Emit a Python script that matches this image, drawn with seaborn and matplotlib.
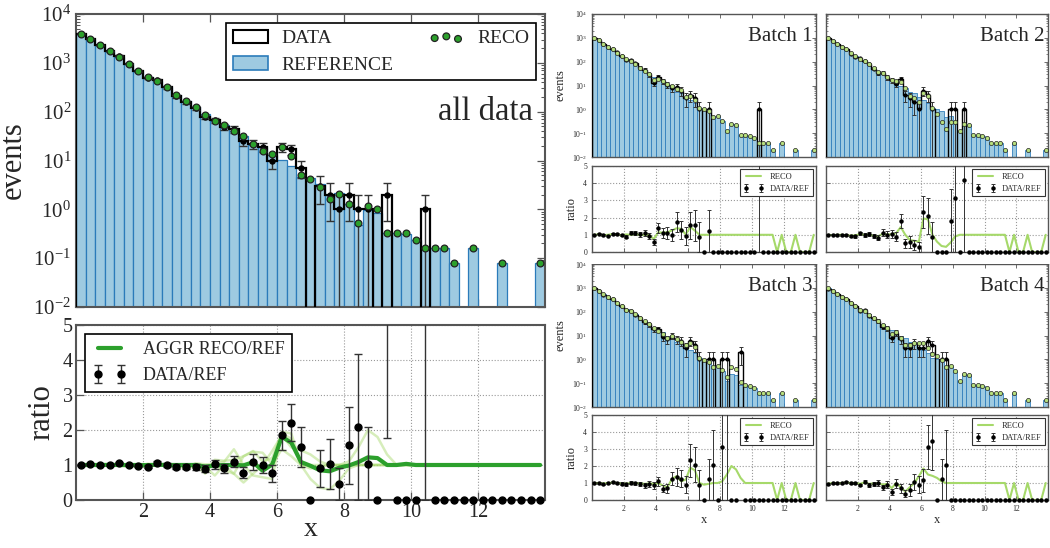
import numpy as np
import pandas as pd
import matplotlib
matplotlib.use("Agg")
import matplotlib.pyplot as plt
import seaborn as sns
from matplotlib.patches import Patch, Rectangle
from matplotlib.lines import Line2D

# ---------------------------------------------------------------- data
X_EDGES = np.linspace(0.0, 14.0, 50)          # 49 bins of width 14/49
N_BATCHES = 4
X_TICKS = [2, 4, 6, 8, 10, 12]
RATIO_TICKS = [0, 1, 2, 3, 4, 5]
LOG_TICKS = [1e-2, 1e-1, 1e0, 1e1, 1e2, 1e3, 1e4]
BATCH_NAMES = ["Batch 1", "Batch 2", "Batch 3", "Batch 4"]

# aggregated reference (blue bars), reco (green dots), data (black step)
REF_ALL = [3950, 3020, 2270, 1710, 1330, 960, 690, 505, 420, 313, 218, 164, 124, 88, 65, 54,
           40, 32, 20.5, 19, 13.2, 10.3, 7.7, 4.6, 4.3, 3.3, 1.95, 2.2, 1.28, 0.48, 0.96, 0.86,
           0.33, 0.32, 0.31, 0.24, 0.16, 0.16, 0.16, 0.08, 0, 0.16, 0, 0, 0.08, 0, 0, 0, 0.08]
RECO_ALL = [3950, 3020, 2270, 1715, 1330, 960, 690, 503, 423, 313, 218, 164, 124, 84, 64, 54,
            40, 31.7, 22.1, 15.9, 13.4, 18.6, 12.6, 5.0, 4.2, 2.8, 1.6, 2.03, 1.26, 0.52, 1.17, 1.03,
            0.33, 0.32, 0.32, 0.24, 0.16, 0.16, 0.16, 0.08, np.nan, 0.16, np.nan, np.nan, 0.08,
            np.nan, np.nan, np.nan, 0.08]
DATA_ALL = [3950, 3110, 2270, 1710, 1410, 960, 676, 480, 445, 313, 207, 156, 118, 78, 66, 49,
            44, 25, 22, 19, 10, 19, 17, 7, 0, 3, 2, 1, 2, 1, 1, 0,
            2, 0, 0, 0, 1, 0, 0, 0, 0, 0, 0, 0, 0, 0, 0, 0, 0]

# per-batch data counts
B1_DATA = [988, 808, 556, 406, 349, 247, 169, 113, 118, 86, 56, 45, 29, 13, 23, 15,
           11, 8, 9, 6, 3, 4, 3, 1, 0, 1, 0, 0, 0, 0, 0, 0,
           0, 0, 0, 0, 1, 0, 0, 0, 0, 0, 0, 0, 0, 0, 0, 0, 0]
B2_DATA = [988, 755, 568, 428, 333, 218, 157, 136, 103, 82, 50, 34, 35, 22, 17, 12,
           18, 4, 3, 2, 1, 6, 4, 1, 0, 0, 0, 1, 1, 0, 1, 0,
           0, 0, 0, 0, 0, 0, 0, 0, 0, 0, 0, 0, 0, 0, 0, 0, 0]
B3_DATA = [988, 755, 522, 428, 346, 240, 166, 116, 107, 76, 52, 36, 29, 19, 18, 9,
           7, 10, 7, 6, 3, 6, 4, 1, 0, 1, 1, 0, 1, 1, 0, 0,
           2, 0, 0, 0, 0, 0, 0, 0, 0, 0, 0, 0, 0, 0, 0, 0, 0]
B4_DATA = [929, 740, 568, 428, 353, 240, 172, 111, 113, 69, 52, 41, 23, 20, 8, 13,
           7, 3, 3, 5, 3, 3, 6, 4, 0, 1, 1, 0, 0, 0, 0, 0,
           0, 0, 0, 0, 0, 0, 0, 0, 0, 0, 0, 0, 0, 0, 0, 0, 0]

# per-batch RECO / REF ratio (light green curves)
B1_RECO_RATIO = [1.0, 1.03, 0.98, 1.0, 1.04, 1.0, 0.98, 1.02, 1.0, 1.03, 1.0, 1.0, 1.0, 0.75, 1.15, 1.12,
                 1.15, 1.25, 1.38, 1.35, 1.02, 1.45, 1.25, 1.0, 1.0, 1.0, 1.0, 1.0, 1.0, 1.0, 1.0, 1.0,
                 1.0, 1.0, 1.0, 1.0, 1.0, 1.0, 1.0, 1.0, 1.0, 1.0, 1.0, 1.0, 1.0, 1.0, 1.0, 1.0, 1.0]
B2_RECO_RATIO = [1.0, 0.98, 1.0, 1.0, 0.98, 0.95, 0.97, 1.04, 1.0, 1.02, 0.95, 0.92, 1.05, 1.02, 1.03, 1.1,
                 1.45, 1.0, 0.7, 0.65, 0.6, 1.95, 1.9, 1.0, 0.6, 0.35, 0.3, 0.55, 0.9, 1.0, 1.0, 1.0,
                 1.0, 1.0, 1.0, 1.0, 1.0, 1.0, 1.0, 1.0, 1.0, 1.0, 1.0, 1.0, 1.0, 1.0, 1.0, 1.0, 1.0]
B3_RECO_RATIO = [1.0, 1.0, 0.97, 1.0, 1.02, 1.0, 0.98, 0.96, 1.0, 0.99, 0.98, 0.95, 0.97, 0.96, 0.98, 0.85,
                 0.75, 1.25, 1.4, 1.1, 1.2, 1.9, 1.75, 1.0, 0.9, 0.95, 1.0, 1.0, 1.1, 1.5, 2.0, 1.8,
                 1.3, 1.0, 1.0, 1.0, 1.0, 1.0, 1.0, 1.0, 1.0, 1.0, 1.0, 1.0, 1.0, 1.0, 1.0, 1.0, 1.0]
B4_RECO_RATIO = [0.97, 0.99, 1.0, 1.0, 1.03, 1.0, 1.0, 0.95, 1.04, 0.95, 0.98, 1.0, 0.9, 0.95, 0.7, 1.0,
                 0.75, 0.5, 0.75, 1.0, 1.4, 1.85, 1.5, 1.42, 1.3, 1.1, 1.0, 1.0, 1.0, 1.0, 1.0, 1.0,
                 1.0, 1.0, 1.0, 1.0, 1.0, 1.0, 1.0, 1.0, 1.0, 1.0, 1.0, 1.0, 1.0, 1.0, 1.0, 1.0, 1.0]

BATCH_DATA = [B1_DATA, B2_DATA, B3_DATA, B4_DATA]
BATCH_RECO_RATIO = [B1_RECO_RATIO, B2_RECO_RATIO, B3_RECO_RATIO, B4_RECO_RATIO]

# ---------------------------------------------------------------- style
REF_FILL = "#9ecae1"
REF_EDGE = "#2b7bba"
GREEN = "#2ca02c"
LIGHT_GREEN = "#a6d96a"
BATCH_DOT = "#b8e07e"
SPINE = "#555555"

sns.set_style("ticks")
plt.rcParams["font.family"] = ["Liberation Serif", "DejaVu Serif"]
plt.rcParams["mathtext.fontset"] = "stix"

W, H = 1050, 548
fig = plt.figure(figsize=(W / 100, H / 100), dpi=100)


def add_ax(left, top, right, bottom):
    return fig.add_axes([left / W, 1 - bottom / H, (right - left) / W, (bottom - top) / H])


centers = 0.5 * (X_EDGES[:-1] + X_EDGES[1:])
BIN_LIST = [float(e) for e in X_EDGES]


def style(ax, lw, major, minor, labelsize, pad=3.5):
    for s in ax.spines.values():
        s.set_color(SPINE)
        s.set_linewidth(lw)
    ax.tick_params(which="both", direction="in", top=True, right=True, color=SPINE,
                   labelsize=labelsize, pad=pad)
    ax.tick_params(which="major", length=major, width=max(lw * 0.6, 0.6))
    ax.tick_params(which="minor", length=minor, width=max(lw * 0.5, 0.5))


def draw_hist(ax, ref, reco, data, dot_color, dot_size, dot_lw, data_ms, step_lw, elw, cap):
    ax.set_yscale("log")
    df = pd.DataFrame({"x": centers, "w": ref})
    sns.histplot(data=df, x="x", weights="w", bins=BIN_LIST, ax=ax, color=REF_FILL,
                 edgecolor=REF_EDGE, linewidth=0.9 * step_lw / 1.6, alpha=1.0, legend=False)
    ax.stairs(data, X_EDGES, baseline=1e-6, color="black", lw=step_lw, zorder=3)
    m = data > 0
    eb = ax.errorbar(centers[m], data[m], yerr=np.sqrt(data[m]), fmt="o", color="black",
                     ms=data_ms, ecolor="0.2", elinewidth=elw, capsize=cap, capthick=elw, zorder=4)
    for c in eb[1]:
        c.set_color("0.5")
    sns.scatterplot(x=centers, y=reco, ax=ax, s=dot_size, color=dot_color, edgecolor="#222222",
                    linewidth=dot_lw, zorder=5, legend=False)
    ax.set_xlim(0, 14)
    ax.set_ylim(1e-2, 1e4)
    ax.set_yticks(LOG_TICKS)
    ax.set_xticks(X_TICKS)
    ax.tick_params(labelbottom=False)
    ax.set_xlabel("")
    ax.set_ylabel("")


def draw_ratio_points(ax, ref, data, ms, elw, cap):
    pos = ref > 0
    ratio = np.where(pos, data / np.where(pos, ref, 1), 0.0)
    err = np.where(pos, np.sqrt(data) / np.where(pos, ref, 1), 0.0)
    m = err > 0
    eb = ax.errorbar(centers[m], ratio[m], yerr=err[m], fmt="o", color="black", ms=ms,
                     ecolor="0.2", elinewidth=elw, capsize=cap, capthick=elw, zorder=4)
    for c in eb[1]:
        c.set_color("0.5")
    ax.plot(centers[~m], ratio[~m], "o", color="black", ms=ms, zorder=4, clip_on=False)
    return eb


def finish_ratio(ax):
    ax.set_xlim(0, 14)
    ax.set_ylim(0, 5)
    ax.set_xticks(X_TICKS)
    ax.set_yticks(RATIO_TICKS)
    ax.grid(True, ls=":", color="0.6", lw=0.8)
    ax.set_axisbelow(True)
    ax.set_xlabel("")
    ax.set_ylabel("")


ref_all = np.array(REF_ALL, dtype=float)
reco_all = np.array(RECO_ALL, dtype=float)
data_all = np.array(DATA_ALL, dtype=float)
ref_batch = ref_all / N_BATCHES

# ---------------------------------------------------------------- main top
ax_top = add_ax(76, 14, 545, 307)
draw_hist(ax_top, ref_all, reco_all, data_all, GREEN, 24, 0.9, 3.6, 1.6, 1.0, 3)
style(ax_top, 1.5, 6, 3, 15)
ax_top.set_ylabel("events", fontsize=22)
ax_top.text(0.975, 0.665, "all data", transform=ax_top.transAxes, ha="right", va="center",
            fontsize=23.5)
reco_proxy = ax_top.scatter([], [], s=24, color=GREEN, edgecolors="#222222", linewidths=0.9)
leg = ax_top.legend([Patch(facecolor="white", edgecolor="black", lw=1.5),
                     Patch(facecolor=REF_FILL, edgecolor=REF_EDGE, lw=1.2), reco_proxy],
                    ["DATA", "REFERENCE", "RECO"], ncol=2, loc="upper right", scatterpoints=3,
                    fontsize=14, frameon=True, fancybox=False, edgecolor="black", framealpha=1,
                    borderaxespad=0.45, handlelength=1.8, handletextpad=0.7, columnspacing=1.8,
                    labelspacing=0.45, borderpad=0.35)
leg.get_frame().set_linewidth(1.2)

# ---------------------------------------------------------------- main ratio
ax_r = add_ax(76, 325, 545, 500)
for rr in BATCH_RECO_RATIO:
    rr = np.array(rr, dtype=float)
    sns.lineplot(x=centers, y=np.where(ref_batch > 0, rr, np.nan), ax=ax_r, color=LIGHT_GREEN,
                 lw=1.8, alpha=0.45, legend=False, zorder=2)
aggr = np.where(ref_all > 0, reco_all / np.where(ref_all > 0, ref_all, 1), 1.0)
aggr = np.where(np.isnan(aggr), 1.0, aggr)
sns.lineplot(x=centers, y=aggr, ax=ax_r, color=GREEN, lw=3, legend=False, zorder=3)
eb_main = draw_ratio_points(ax_r, ref_all, data_all, 5, 1.0, 3)
finish_ratio(ax_r)
style(ax_r, 1.5, 6, 3, 14.5, pad=2.5)
ax_r.tick_params(which="both", top=False, right=False)
ax_r.set_ylabel("ratio", fontsize=22)
ax_r.set_xlabel("x", fontsize=20, labelpad=-4)
leg_r = ax_r.legend([Line2D([], [], color=GREEN, lw=3), eb_main], ["AGGR RECO/REF", "DATA/REF"],
                    loc="upper left", numpoints=2, fontsize=13, frameon=True, fancybox=False,
                    edgecolor="black", framealpha=1, borderaxespad=0.5, handlelength=1.9,
                    handletextpad=0.9)
leg_r.get_frame().set_linewidth(1.2)

# ---------------------------------------------------------------- batches
COLS = [(592, 816), (826, 1048)]
ROWS = [((14, 157), (166, 252)), ((264, 407), (415, 500))]
for i in range(N_BATCHES):
    row, col = divmod(i, 2)
    (l, r) = COLS[col]
    (t1, b1), (t2, b2) = ROWS[row]
    data_b = np.array(BATCH_DATA[i], dtype=float)
    rr = np.array(BATCH_RECO_RATIO[i], dtype=float)
    reco_b = np.where(ref_batch > 0, rr * ref_batch, np.nan)

    axh = add_ax(l, t1, r, b1)
    draw_hist(axh, ref_batch, reco_b, data_b, BATCH_DOT, 9, 0.5, 2.0, 1.0, 0.7, 1.3)
    style(axh, 1.0, 3, 1.5, 5.5)
    axh.text(0.985, 0.84, BATCH_NAMES[i], transform=axh.transAxes, ha="right", va="center",
             fontsize=15)

    axr = add_ax(l, t2, r, b2)
    sns.lineplot(x=centers, y=np.where(ref_batch > 0, rr, 0.0), ax=axr, color=LIGHT_GREEN, lw=1.5,
                 legend=False, zorder=3)
    eb_b = draw_ratio_points(axr, ref_batch, data_b, 2.2, 0.7, 1.3)
    finish_ratio(axr)
    style(axr, 1.0, 3, 1.5, 5.5)
    axr.tick_params(which="both", top=False, right=False)
    lg = axr.legend([Line2D([], [], color=LIGHT_GREEN, lw=1.5), eb_b], ["RECO", "DATA/REF"],
                    loc="upper right", numpoints=2, fontsize=6, frameon=True, fancybox=False,
                    edgecolor="#333333", framealpha=1, borderaxespad=0.4, handlelength=2.4)
    lg.get_frame().set_linewidth(0.8)
    if col == 0:
        axh.set_ylabel("events", fontsize=9)
        axr.set_ylabel("ratio", fontsize=9)
    else:
        axh.tick_params(labelleft=False)
        axr.tick_params(labelleft=False)
    if row == 1:
        axr.set_xlabel("x", fontsize=9, labelpad=1)

# white strip that hides most of the upper ratio tick labels (as in the original)
fig.patches.append(Rectangle((585 / W, 1 - 264 / H), (W - 585) / W, 7 / H,
                             transform=fig.transFigure, facecolor="white", edgecolor="none",
                             zorder=5))

fig.savefig("out.png", dpi=100)
